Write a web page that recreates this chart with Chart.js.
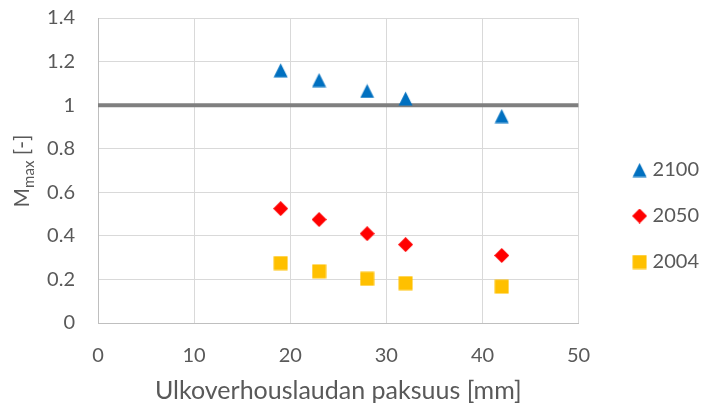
<!DOCTYPE html>
<html>
<head>
<meta charset="utf-8">
<script src="https://cdn.jsdelivr.net/npm/chart.js@4/dist/chart.umd.min.js"></script>
<style>
  html, body { margin: 0; padding: 0; background: #ffffff; }
  #wrap { width: 701px; height: 408px; }
</style>
</head>
<body>
<div id="wrap"><canvas id="c" width="701" height="408"></canvas></div>
<script>
// Board thickness [mm]
const thickness = [19, 23, 28, 32, 42];
// Maximum mould index M_max per climate scenario
const m2100 = [1.16, 1.115, 1.065, 1.03, 0.95];
const m2050 = [0.525, 0.475, 0.41, 0.36, 0.31];
const m2004 = [0.275, 0.237, 0.203, 0.183, 0.167];
// Reference level M = 1
const limitX = [0, 50];
const limitY = [1, 1];
const seriesNames = ['2100', '2050', '2004'];

const FONT = 'Lato, "Open Sans", sans-serif';
const TXT = '#595959';

function toPoints(xs, ys) { return xs.map((x, i) => ({ x: x, y: ys[i] })); }

// Marker glyphs drawn centred in their own small canvases
function marker(kind, color) {
  const s = 15;
  const cv = document.createElement('canvas');
  cv.width = s; cv.height = s;
  const g = cv.getContext('2d');
  g.fillStyle = color;
  g.beginPath();
  if (kind === 'triangle') {
    g.moveTo(s / 2, 0.5); g.lineTo(s - 0.5, s - 0.5); g.lineTo(0.5, s - 0.5);
  } else if (kind === 'diamond') {
    g.moveTo(s / 2, 0); g.lineTo(s, s / 2); g.lineTo(s / 2, s); g.lineTo(0, s / 2);
  } else {
    g.rect(0.5, 0.5, s - 1, s - 1);
  }
  g.closePath();
  g.fill();
  return cv;
}

const triImg = marker('triangle', '#0070C0');
const diaImg = marker('diamond', '#FF0000');
const sqImg = marker('square', '#FFC000');

// Rotated y-axis title with subscript
const yTitlePlugin = {
  id: 'yTitle',
  afterDraw(chart) {
    const ctx = chart.ctx;
    const parts = [
      { t: 'M', size: 21, dy: 0 },
      { t: 'max', size: 15, dy: 5 },
      { t: ' [-]', size: 21, dy: 0 }
    ];
    ctx.save();
    let total = 0;
    parts.forEach(p => { ctx.font = p.size + 'px ' + FONT; p.w = ctx.measureText(p.t).width; total += p.w; });
    const cx = 22, cy = 171;
    ctx.translate(cx, cy);
    ctx.rotate(-Math.PI / 2);
    ctx.fillStyle = TXT;
    ctx.textBaseline = 'alphabetic';
    ctx.textAlign = 'left';
    let x = -total / 2;
    parts.forEach(p => {
      ctx.font = p.size + 'px ' + FONT;
      ctx.fillText(p.t, x, 7 + p.dy);
      x += p.w;
    });
    ctx.restore();
  }
};

new Chart(document.getElementById('c'), {
  type: 'scatter',
  data: {
    datasets: [
      {
        label: seriesNames[0],
        data: toPoints(thickness, m2100),
        pointStyle: triImg,
        pointRadius: 7,
        backgroundColor: '#0070C0',
        borderColor: '#0070C0'
      },
      {
        label: seriesNames[1],
        data: toPoints(thickness, m2050),
        pointStyle: diaImg,
        pointRadius: 7,
        backgroundColor: '#FF0000',
        borderColor: '#FF0000'
      },
      {
        label: seriesNames[2],
        data: toPoints(thickness, m2004),
        pointStyle: sqImg,
        pointRadius: 7,
        backgroundColor: '#FFC000',
        borderColor: '#FFC000'
      },
      {
        label: 'raja',
        data: toPoints(limitX, limitY),
        showLine: true,
        pointRadius: 0,
        borderColor: '#7F7F7F',
        borderWidth: 4,
        backgroundColor: '#7F7F7F'
      }
    ]
  },
  options: {
    responsive: false,
    animation: false,
    devicePixelRatio: 1,
    layout: { padding: { top: 18, right: -8, bottom: 0, left: 0 } },
    plugins: {
      tooltip: { enabled: false },
      legend: {
        position: 'right',
        align: 'center',
        title: { display: true, text: '', font: { size: 6, lineHeight: 1 }, padding: { top: 0, bottom: 0 } },
        labels: {
          usePointStyle: true,
          pointStyleWidth: 6,
          padding: 26,
          color: TXT,
          font: { family: FONT, size: 20 },
          filter: item => item.datasetIndex < 3
        }
      }
    },
    scales: {
      x: {
        type: 'linear',
        min: 0, max: 50,
        ticks: { stepSize: 10, padding: 21, color: TXT, font: { family: FONT, size: 20 } },
        grid: { color: '#D9D9D9', drawTicks: false },
        border: { color: '#BFBFBF' },
        title: {
          display: true,
          text: 'Ulkoverhouslaudan paksuus [mm]',
          color: TXT,
          font: { family: FONT, size: 25 },
          padding: { top: 4, bottom: 2 }
        },
        afterFit(scale) { scale.height = 85; scale.paddingLeft = 0; scale.paddingRight = 0; }
      },
      y: {
        type: 'linear',
        min: 0, max: 1.4,
        ticks: {
          stepSize: 0.2, padding: 23, color: TXT, font: { family: FONT, size: 20 },
          callback: v => String(Number(v.toFixed(1)))
        },
        grid: { color: '#D9D9D9', drawTicks: false },
        border: { color: '#BFBFBF' },
        afterFit(scale) { scale.width = 98; scale.paddingTop = 0; scale.paddingBottom = 0; }
      },
      gap: {
        type: 'linear',
        position: 'right',
        display: true,
        ticks: { display: false },
        grid: { display: false, drawTicks: false },
        border: { display: false },
        afterFit(scale) { scale.width = 32; scale.paddingTop = 0; scale.paddingBottom = 0; }
      }
    }
  },
  plugins: [yTitlePlugin]
});
</script>
</body>
</html>
